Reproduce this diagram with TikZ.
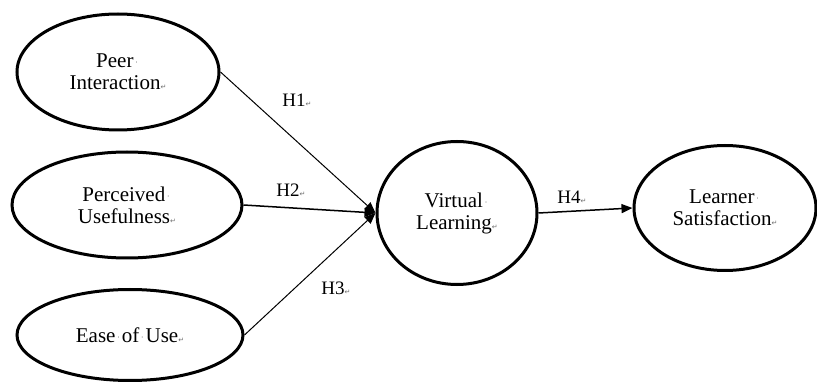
\documentclass[tikz,border=0pt]{standalone}
\usepackage{fontspec}
\setmainfont{Liberation Serif}
\newfontfamily\marksymfont{DejaVu Sans}
\usetikzlibrary{shapes.geometric,arrows.meta}
\definecolor{markgray}{RGB}{110,110,110}
\newcommand{\dotmark}{\hbox to 0.3em{\hss{\color{markgray}\fontsize{9}{9}\selectfont\raisebox{0.2em}{·}}\hss}}
\newcommand{\retmark}{{\color{markgray}\marksymfont\fontsize{7}{7}\selectfont ↵}}
\begin{document}
\begin{tikzpicture}[x=1pt,y=-1pt,
  construct/.style={ellipse, draw, line width=3pt, inner sep=0pt, align=center,
    font=\fontsize{21}{22}\selectfont},
  hpath/.style={-{Triangle[length=11pt,width=9pt]}, line width=1pt},
  hpathb/.style={-{Triangle[length=11pt,width=9pt]}, line width=1.5pt},
  hyp/.style={font=\fontsize{19}{20}\selectfont, inner sep=0pt}]
\useasboundingbox (0,0) rectangle (817,382);
\node[construct, minimum width=202, minimum height=116] (pi) at (118,72) {Peer\dotmark\\Interaction\retmark};
\node[construct, minimum width=230, minimum height=106] (pu) at (127,205) {Perceived\dotmark\\Usefulness\retmark};
\node[construct, minimum width=226, minimum height=91] (eu) at (130,335) {Ease\dotmark of\dotmark Use\retmark};
\node[construct, minimum width=160, minimum height=143] (vl) at (457,213) {Virtual\dotmark\\Learning\retmark};
\node[construct, minimum width=182, minimum height=125] (ls) at (725,208) {Learner\dotmark\\Satisfaction\retmark};
\draw[hpath] (pi.east) -- (vl.west);
\draw[hpathb] (pu.east) -- (vl.west);
\draw[hpath] (eu.east) -- (vl.west);
\draw[hpathb] (vl.east) -- (ls.west);
\node[hyp] (h1) at (297,100) {H1\retmark};
\node[hyp] (h2) at (291,190) {H2\retmark};
\node[hyp] (h3) at (336,288) {H3\retmark};
\node[hyp] (h4) at (572,197) {H4\retmark};
\end{tikzpicture}
\end{document}
